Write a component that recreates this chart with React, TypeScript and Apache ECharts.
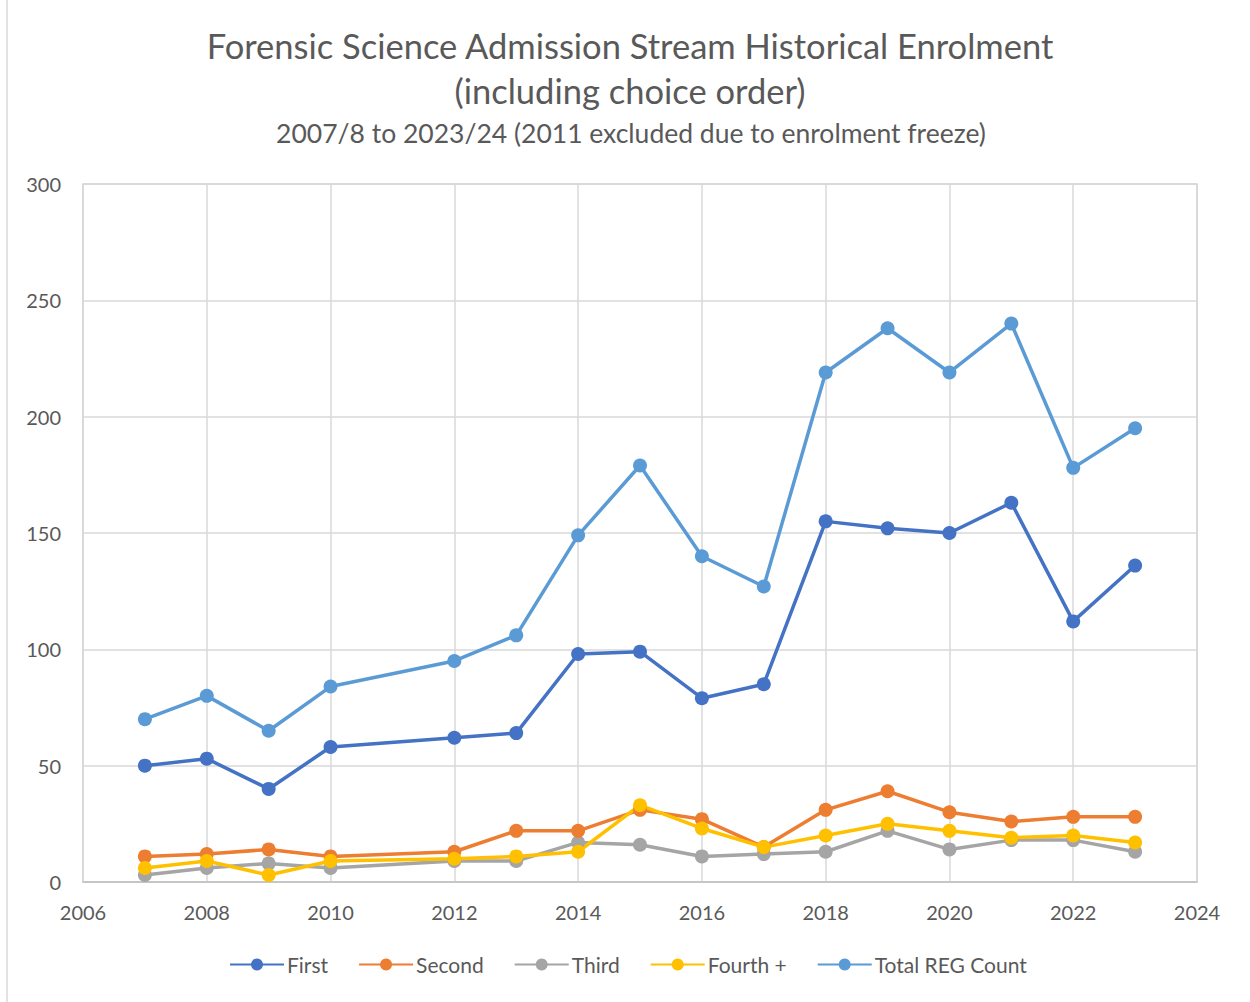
import React, { useEffect, useRef } from "react";
import * as echarts from "echarts";

const years = [2007, 2008, 2009, 2010, 2012, 2013, 2014, 2015, 2016, 2017, 2018, 2019, 2020, 2021, 2022, 2023];
const first = [50, 53, 40, 58, 62, 64, 98, 99, 79, 85, 155, 152, 150, 163, 112, 136];
const second = [11, 12, 14, 11, 13, 22, 22, 31, 27, 15, 31, 39, 30, 26, 28, 28];
const third = [3, 6, 8, 6, 9, 9, 17, 16, 11, 12, 13, 22, 14, 18, 18, 13];
const fourth = [6, 9, 3, 9, 10, 11, 13, 33, 23, 15, 20, 25, 22, 19, 20, 17];
const total = [70, 80, 65, 84, 95, 106, 149, 179, 140, 127, 219, 238, 219, 240, 178, 195];

const seriesNames = ["First", "Second", "Third", "Fourth +", "Total REG Count"];
const seriesColors = ["#4472C4", "#ED7D31", "#A5A5A5", "#FFC000", "#5B9BD5"];
const seriesValues = [first, second, third, fourth, total];
const drawOrder = [4, 0, 2, 1, 3];

const titleText = "Forensic Science Admission Stream Historical Enrolment\n(including choice order)";
const subtitleText = "2007/8 to 2023/24 (2011 excluded due to enrolment freeze)";

const FONT = "Lato, 'Open Sans', sans-serif";
const TEXT = "#595959";

export default function App() {
  const ref = useRef<HTMLDivElement>(null);
  useEffect(() => {
    document.body.style.margin = "0";
    document.body.style.overflow = "hidden";
    if (!ref.current) return;
    const chart = echarts.init(ref.current, undefined, { renderer: "svg" });
    const series = drawOrder.map((i) => ({
      name: seriesNames[i],
      type: "line",
      data: years.map((y, k) => [y, seriesValues[i][k]]),
      color: seriesColors[i],
      symbol: "circle",
      symbolSize: 14,
      lineStyle: { width: 3.5, color: seriesColors[i] },
      itemStyle: { color: seriesColors[i] },
      z: 2,
    }));
    chart.setOption({
      animation: false,
      backgroundColor: "#ffffff",
      textStyle: { fontFamily: FONT },
      title: [
        {
          text: titleText,
          left: 625,
          top: 18,
          textAlign: "center",
          textStyle: { fontFamily: FONT, fontSize: 34.5, fontWeight: "normal", color: TEXT, lineHeight: 45 },
        },
        {
          text: subtitleText,
          left: 626,
          top: 112,
          textAlign: "center",
          textStyle: { fontFamily: FONT, fontSize: 26.5, fontWeight: "normal", color: TEXT, lineHeight: 32 },
        },
      ],
      legend: {
        data: seriesNames.map((n) => ({ name: n })),
        bottom: 22,
        left: 224,
        itemWidth: 54,
        itemHeight: 15,
        itemGap: 30,
        textStyle: { fontFamily: FONT, fontSize: 21, color: TEXT, padding: [0, 0, 0, -2] },
      },
      grid: { left: 83, right: 53, top: 184, bottom: 120, containLabel: false, show: true, borderColor: "#d0d0d0", borderWidth: 1.5 },
      xAxis: {
        type: "value",
        min: 2006,
        max: 2024,
        interval: 2,
        axisLine: { show: true, lineStyle: { color: "#bfbfbf", width: 1.5 } },
        axisTick: { show: false },
        splitLine: { show: true, lineStyle: { color: "#d9d9d9", width: 1.5 } },
        axisLabel: { color: TEXT, fontSize: 20, fontFamily: FONT, margin: 20, formatter: (v: number) => String(v) },
      },
      yAxis: {
        type: "value",
        min: 0,
        max: 300,
        interval: 50,
        axisLine: { show: false },
        axisTick: { show: false },
        splitLine: { show: true, lineStyle: { color: "#d9d9d9", width: 1.5 } },
        axisLabel: { color: TEXT, fontSize: 20, fontFamily: FONT, margin: 22 },
      },
      graphic: [
        { type: "line", shape: { x1: 7, y1: 0, x2: 7, y2: 1002 }, style: { stroke: "#d9d9d9", lineWidth: 1.5 } },
      ],
      series,
    });
    return () => chart.dispose();
  }, []);
  return <div ref={ref} style={{ width: 1250, height: 1002 }} />;
}
